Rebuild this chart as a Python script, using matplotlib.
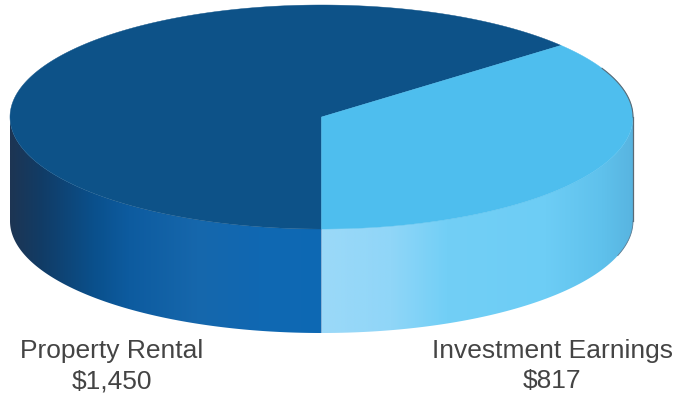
import matplotlib
matplotlib.use("Agg")
import matplotlib.pyplot as plt
import numpy as np
from matplotlib.colors import LinearSegmentedColormap
from matplotlib.patches import Polygon

categories = ["Property Rental", "Investment Earnings"]
values = [1450, 817]
value_labels = ["$1,450", "$817"]

W, H = 678, 398
CX, CY, RX, RY = 321.5, 117.0, 311.5, 112.0
DEPTH = 104.0

plt.rcParams["font.family"] = ["Liberation Sans", "DejaVu Sans"]

fig = plt.figure(figsize=(W / 100, H / 100), dpi=100)
ax = fig.add_axes([0, 0, 1, 1])
ax.set_xlim(0, W)
ax.set_ylim(H, 0)
ax.axis("off")


def rim(a0, a1, n=300):
    # points on the top ellipse, angles in degrees, counterclockwise from east
    t = np.radians(np.linspace(a0, a1, n))
    return np.column_stack([CX + RX * np.cos(t), CY - RY * np.sin(t)])


# slice angles: the light slice starts at 6 o'clock and runs counterclockwise
light_sweep = 360 * values[1] / sum(values)
a_start = -90
a_split = a_start + light_sweep

# side walls, gradient clipped to the visible part of the rim
dark_cmap = LinearSegmentedColormap.from_list(
    "dark",
    [(0, "#1d3553"), (0.1, "#113c66"), (0.27, "#0a508c"), (0.38, "#0d5b9f"),
     (0.6, "#1667ac"), (0.8, "#1068b2"), (1, "#0d69b4")],
)
light_cmap = LinearSegmentedColormap.from_list(
    "light",
    [(0, "#9bd9f8"), (0.22, "#90d6f8"), (0.4, "#72cff6"), (0.72, "#6dcdf5"),
     (0.9, "#5fc1ec"), (1, "#58b4e0")],
)


def side(a0, a1, cmap, x0, x1):
    top = rim(a0, a1)
    bottom = top[::-1] + [0, DEPTH]
    poly = Polygon(np.vstack([top, bottom]), closed=True, fc="none", ec="none")
    ax.add_patch(poly)
    grad = np.linspace(0, 1, 512).reshape(1, -1)
    im = ax.imshow(grad, cmap=cmap, aspect="auto", extent=[x0, x1, CY + RY + DEPTH, CY], zorder=1)
    im.set_clip_path(poly)


side(180, 270, dark_cmap, CX - RX, CX)
side(270, 360, light_cmap, CX, CX + RX)

# top face
dark_top = np.vstack([[CX, CY], rim(a_split, a_start + 360)])
light_top = np.vstack([[CX, CY], rim(a_start, a_split)])
ax.add_patch(Polygon(dark_top, closed=True, fc="#0d5288", ec="#0d5288", lw=0.3, zorder=2))
ax.add_patch(Polygon(light_top, closed=True, fc="#4ebeee", ec="#4ebeee", lw=0.3, zorder=2))

# thin dark outline along the upper right rim and the right wall
edge = rim(a_split - 14, 0)
ax.plot(edge[:, 0], edge[:, 1], color="#5a6a75", lw=0.8, zorder=3)
ax.plot([CX + RX, CX + RX], [CY, CY + DEPTH], color="#5a6a75", lw=0.9, zorder=3)
edge = rim(-18, 0) + [0, DEPTH]
ax.plot(edge[:, 0], edge[:, 1], color="#5a7a90", lw=0.6, zorder=3)

# labels
for cat, val, x in zip(categories, value_labels, [112, 552]):
    ax.text(x, 351, cat, ha="center", va="center", fontsize=19, color="#444444")
    ax.text(x, 381, val, ha="center", va="center", fontsize=19, color="#444444")

fig.savefig("out.png", dpi=100)
